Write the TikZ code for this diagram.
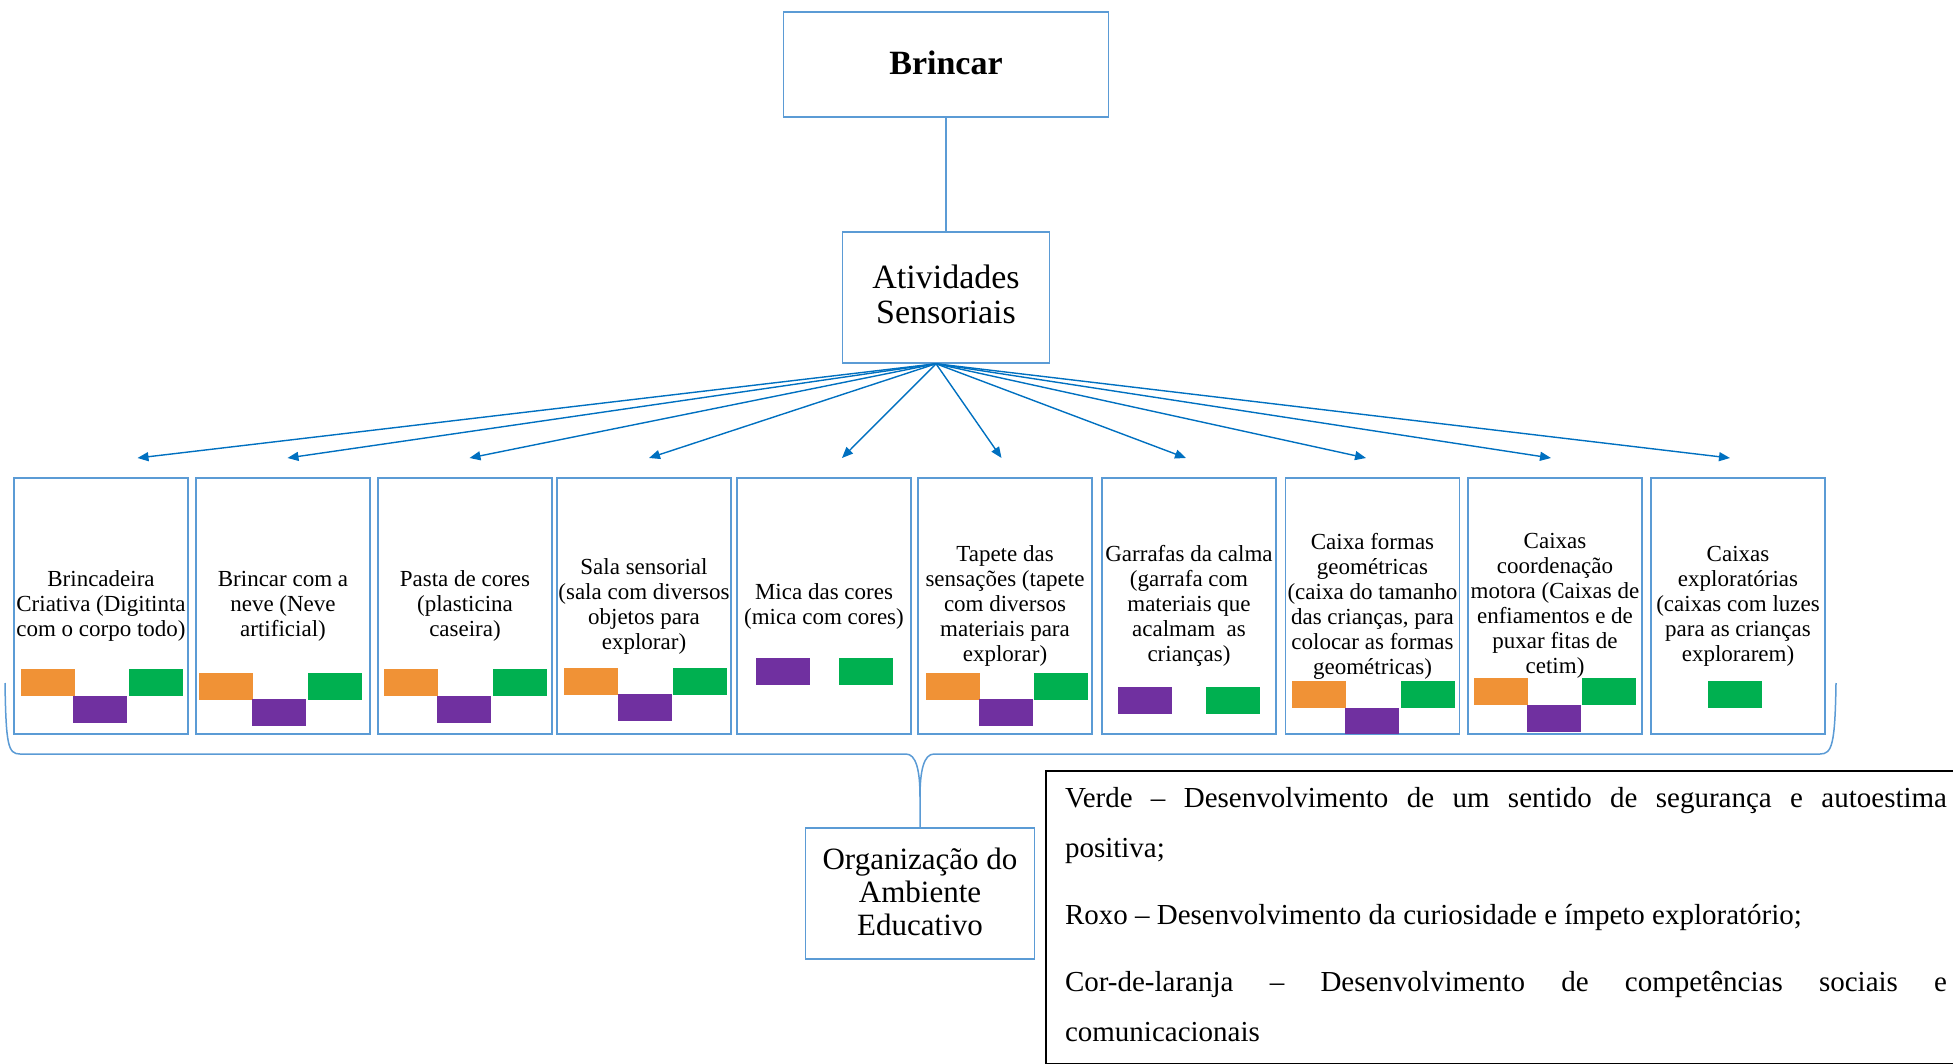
\documentclass[tikz,border=0pt]{standalone}
\usepackage{fontspec}
\setmainfont{Liberation Serif}
\usepackage{tikz}
\usetikzlibrary{arrows.meta}
\definecolor{lineblue}{RGB}{91,155,213}
\definecolor{arrowblue}{RGB}{0,112,192}
\definecolor{barorange}{RGB}{240,146,54}
\definecolor{barpurple}{RGB}{112,48,160}
\definecolor{bargreen}{RGB}{0,176,80}
\tikzset{topbox/.style = {draw = lineblue, line width = 0.75pt, align = center, inner sep = 0}}
\tikzset{actbox/.style = {topbox, minimum width = 87pt, minimum height = 128pt, inner sep = 0.5pt, font = \fontsize{11.5}{12.5}\selectfont}}
\tikzset{arr/.style = {draw = arrowblue, line width = 0.7pt, -{Triangle[length = 5.5pt, width = 4.5pt]}}}
\tikzset{lnk/.style = {draw = lineblue, line width = 0.75pt}}
\tikzset{orangebar/.style = {fill = barorange}}
\tikzset{purplebar/.style = {fill = barpurple}}
\tikzset{greenbar/.style = {fill = bargreen}}
\tikzset{legend/.style = {draw = black, line width = 1pt, text width = 441pt, align = justify, inner xsep = 9.5pt, inner ysep = 8pt, minimum height = 146.5pt, font = \fontsize{14.5}{25}\selectfont}}

\begin{document}
\begin{tikzpicture}[x = 0.5pt, y = -0.5pt]
      \useasboundingbox (0, 0) rectangle (1953, 1064);
      \node [topbox, minimum width = 162.5pt, minimum height = 52.5pt, text depth = 2pt, font = \fontsize{17}{18}\selectfont\bfseries] (brincar) at (946, 64.5) {Brincar};
      \node [topbox, minimum width = 103.5pt, minimum height = 65.5pt, text depth = 3pt, font = \fontsize{17}{17.6}\selectfont] (ativ) at (946, 297.5) {Atividades\\Sensoriais};
      \draw [lnk] (brincar) -- (ativ);

      \node [actbox] (b1) at (101, 606) {Brincadeira\\Criativa (Digitinta\\com o corpo todo)};
      \node [actbox] (b2) at (283, 606) {Brincar com a\\neve (Neve\\artificial)};
      \node [actbox] (b3) at (465, 606) {Pasta de cores\\(plasticina\\caseira)};
      \node [actbox] (b4) at (644, 606) {Sala sensorial\\(sala com diversos\\objetos para\\explorar)};
      \node [actbox] (b5) at (824, 606) {Mica das cores\\(mica com cores)};
      \node [actbox] (b6) at (1005, 606) {Tapete das\\sensações (tapete\\com diversos\\materiais para\\explorar)};
      \node [actbox] (b7) at (1189, 606) {Garrafas da calma\\(garrafa com\\materiais que\\acalmam~ as\\crianças)};
      \node [actbox] (b8) at (1372.5, 606) {Caixa formas\\geométricas\\(caixa do tamanho\\das crianças, para\\colocar as formas\\geométricas)};
      \node [actbox] (b9) at (1555, 606) {Caixas\\coordenação\\motora (Caixas de\\enfiamentos e de\\puxar fitas de\\cetim)};
      \node [actbox] (b10) at (1738, 606) {Caixas\\exploratórias\\(caixas com luzes\\para as crianças\\explorarem)};

      \fill [orangebar] (21, 669) rectangle +(54, 27);
      \fill [purplebar] (73, 696) rectangle +(54, 27);
      \fill [greenbar] (129, 669) rectangle +(54, 27);
      \fill [orangebar] (199, 673) rectangle +(54, 27);
      \fill [purplebar] (252, 699) rectangle +(54, 27);
      \fill [greenbar] (308, 673) rectangle +(54, 27);
      \fill [orangebar] (384, 669) rectangle +(54, 27);
      \fill [purplebar] (437, 696) rectangle +(54, 27);
      \fill [greenbar] (493, 669) rectangle +(54, 27);
      \fill [orangebar] (564, 668) rectangle +(54, 27);
      \fill [purplebar] (618, 694) rectangle +(54, 27);
      \fill [greenbar] (673, 668) rectangle +(54, 27);
      \fill [purplebar] (756, 658) rectangle +(54, 27);
      \fill [greenbar] (839, 658) rectangle +(54, 27);
      \fill [orangebar] (926, 673) rectangle +(54, 27);
      \fill [purplebar] (979, 699) rectangle +(54, 27);
      \fill [greenbar] (1034, 673) rectangle +(54, 27);
      \fill [purplebar] (1118, 687) rectangle +(54, 27);
      \fill [greenbar] (1206, 687) rectangle +(54, 27);
      \fill [orangebar] (1292, 681) rectangle +(54, 27);
      \fill [purplebar] (1345, 708) rectangle +(54, 26);
      \fill [greenbar] (1401, 681) rectangle +(54, 27);
      \fill [orangebar] (1474, 678) rectangle +(54, 27);
      \fill [purplebar] (1527, 705) rectangle +(54, 27);
      \fill [greenbar] (1582, 678) rectangle +(54, 27);
      \fill [greenbar] (1708, 681) rectangle +(54, 27);

      \coordinate (hub) at ([xshift = -5pt] ativ.south);
      \coordinate (t1) at (137.5, 458);
      \coordinate (t2) at (287.5, 458);
      \coordinate (t3) at (469.5, 458);
      \coordinate (t4) at (649, 458);
      \coordinate (t5) at (842, 458);
      \coordinate (t6) at (1001.5, 458);
      \coordinate (t7) at (1186, 458);
      \coordinate (t8) at (1366, 458);
      \coordinate (t9) at (1551, 458);
      \coordinate (t10) at (1730, 458);
      \draw [arr] (hub) -- (t1);
      \draw [arr] (hub) -- (t2);
      \draw [arr] (hub) -- (t3);
      \draw [arr] (hub) -- (t4);
      \draw [arr] (hub) -- (t5);
      \draw [arr] (hub) -- (t6);
      \draw [arr] (hub) -- (t7);
      \draw [arr] (hub) -- (t8);
      \draw [arr] (hub) -- (t9);
      \draw [arr] (hub) -- (t10);

      \node [topbox, minimum width = 114.5pt, minimum height = 65.5pt, text depth = 2pt, font = \fontsize{15.5}{16.5}\selectfont] (org) at (920, 893.5) {Organização do\\Ambiente\\Educativo};
      \coordinate (tip) at (920, 797);
      \draw [lnk] (5, 683) .. controls (6, 745) and (8, 754) .. (20, 754) -- (906, 754) .. controls (916, 754) and (920, 770) .. (tip) -- (org.north);
      \draw [lnk] (1836, 683) .. controls (1835, 745) and (1832, 754) .. (1820, 754) -- (934, 754) .. controls (924, 754) and (920, 770) .. (tip);

      \node [legend, anchor = north west] (leg) at (1045, 770) {\parindent=0pt\parskip=8.5pt Verde -- Desenvolvimento de um sentido de segurança e autoestima\linebreak positiva;\par Roxo -- Desenvolvimento da curiosidade e ímpeto exploratório;\par Cor-de-laranja -- Desenvolvimento de competências sociais e\linebreak comunicacionais\par\kern3pt};
    \end{tikzpicture}
\end{document}
